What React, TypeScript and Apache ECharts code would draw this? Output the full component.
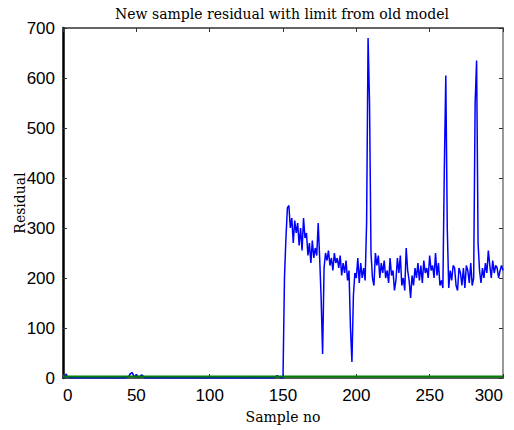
import React, { useEffect, useRef } from "react";
import * as echarts from "echarts";

const titleText = "New sample residual with limit from old model";
const xName = "Sample no";
const yName = "Residual";
const xTicks = [0, 50, 100, 150, 200, 250, 300];
const yTicks = [0, 100, 200, 300, 400, 500, 600, 700];

// residual of new samples, index 0..149 (in-control part)
const residualA = [
  0, 2, 8, 3, 1, 0, 1, 0, 0, 1, 0, 0, 1, 0, 0, 0, 1, 0, 0, 1,
  0, 0, 0, 1, 0, 0, 0, 0, 1, 0, 0, 1, 0, 0, 0, 1, 0, 0, 0, 0,
  1, 0, 0, 1, 2, 4, 9, 11, 6, 2, 7, 3, 1, 5, 6, 2, 0, 1, 0, 0,
  1, 0, 0, 0, 1, 0, 0, 1, 0, 0, 0, 1, 0, 0, 0, 0, 1, 0, 0, 1,
  0, 0, 0, 1, 0, 0, 0, 0, 1, 0, 0, 1, 0, 0, 0, 1, 0, 0, 0, 0,
  1, 0, 0, 1, 0, 0, 0, 1, 0, 0, 0, 0, 1, 0, 0, 1, 0, 0, 0, 1,
  0, 0, 0, 0, 1, 0, 0, 1, 0, 0, 0, 1, 0, 0, 0, 0, 1, 0, 0, 1,
  0, 0, 0, 1, 0, 2, 5, 3, 1, 0,
];
// residual of new samples, index 150..300 (after the fault)
const residualB = [
  0, 200, 280, 340, 345, 300, 320, 270, 315, 290,
  310, 265, 300, 255, 320, 280, 290, 245, 270, 230,
  275, 240, 260, 245, 310, 240, 160, 48, 220, 250,
  235, 255, 225, 240, 215, 250, 230, 240, 220, 245,
  205, 230, 210, 235, 195, 215, 100, 32, 165, 210,
  200, 240, 190, 230, 200, 220, 195, 310, 680, 550,
  250, 200, 185, 250, 225, 245, 200, 230, 210, 235,
  200, 215, 190, 240, 205, 215, 175, 195, 240, 210,
  245, 185, 200, 175, 260, 215, 195, 160, 205, 185,
  220, 200, 230, 195, 225, 190, 235, 210, 220, 200,
  245, 215, 225, 200, 250, 205, 230, 185, 195, 180,
  420, 605, 300, 180, 215, 195, 225, 220, 185, 175,
  220, 210, 185, 220, 180, 225, 215, 190, 230, 185,
  200, 550, 635, 270, 215, 190, 220, 200, 230, 210,
  255, 225, 200, 235, 210, 225, 220, 200, 215, 225,
  215,
];
const limitValue = 3;
const limitRange = [0, 300];

export default function App() {
  const ref = useRef<HTMLDivElement>(null);
  useEffect(() => {
    if (!ref.current) return;
    const chart = echarts.init(ref.current, undefined, { renderer: "svg" });
    const residual = residualA.concat(residualB);
    const serif = "'DejaVu Serif', 'Liberation Serif', serif";
    const sans = "'Liberation Sans Narrow', 'Liberation Sans', Arial, sans-serif";
    const tickStyle = { show: true, inside: true, length: 4, lineStyle: { color: "#333", width: 1 } };
    chart.setOption({
      animation: false,
      backgroundColor: "#fff",
      title: {
        text: titleText,
        left: 277,
        textAlign: "center",
        top: 2,
        textStyle: { fontFamily: serif, fontSize: 14, fontWeight: "normal", color: "#000" },
      },
      grid: { left: 63, right: 11, top: 28, bottom: 52, outerBoundsMode: "none", containLabel: false },
      xAxis: [
        {
          type: "value",
          min: 0,
          max: 300,
          interval: 50,
          position: "bottom",
          name: xName,
          nameLocation: "middle",
          nameGap: 32,
          nameMoveOverlap: false,
          nameTextStyle: { fontFamily: serif, fontSize: 14, color: "#000" },
          axisLine: { show: true, onZero: false, lineStyle: { color: "#222", width: 1.5 } },
          axisTick: tickStyle,
          axisLabel: {
            fontFamily: sans,
            fontSize: 17,
            color: "#000",
            margin: 9,
            showMaxLabel: true,
            alignMinLabel: "left",
            alignMaxLabel: "right",
          },
          splitLine: { show: false },
          data: xTicks,
        },
        {
          type: "value",
          min: 0,
          max: 300,
          interval: 50,
          position: "top",
          axisLine: { show: true, onZero: false, lineStyle: { color: "#333", width: 1.5 } },
          axisTick: tickStyle,
          axisLabel: { show: false },
          splitLine: { show: false },
        },
      ],
      yAxis: [
        {
          type: "value",
          min: 0,
          max: 700,
          interval: 100,
          position: "left",
          name: yName,
          nameLocation: "middle",
          nameGap: 36,
          nameMoveOverlap: false,
          nameTextStyle: { fontFamily: serif, fontSize: 14, color: "#000" },
          axisLine: { show: true, onZero: false, lineStyle: { color: "#000", width: 2.5 } },
          axisTick: tickStyle,
          axisLabel: { fontFamily: sans, fontSize: 17, color: "#000", margin: 8 },
          splitLine: { show: false },
          data: yTicks,
        },
        {
          type: "value",
          min: 0,
          max: 700,
          interval: 100,
          position: "right",
          axisLine: { show: true, onZero: false, lineStyle: { color: "#777", width: 1.5 } },
          axisTick: tickStyle,
          axisLabel: { show: false },
          splitLine: { show: false },
        },
      ],
      series: [
        {
          type: "line",
          data: residual.map((v, i) => [i, v]),
          showSymbol: false,
          lineStyle: { color: "#0000ff", width: 1.5 },
          xAxisIndex: 0,
          yAxisIndex: 0,
          z: 2,
        },
        {
          type: "line",
          data: limitRange.map((x) => [x, limitValue]),
          showSymbol: false,
          lineStyle: { color: "#008000", width: 2 },
          xAxisIndex: 0,
          yAxisIndex: 0,
          z: 3,
        },
      ],
    });
    return () => chart.dispose();
  }, []);
  return (
    <div
      ref={ref}
      style={{ position: "fixed", left: 0, top: 0, width: 514, height: 430, background: "#fff" }}
    />
  );
}
